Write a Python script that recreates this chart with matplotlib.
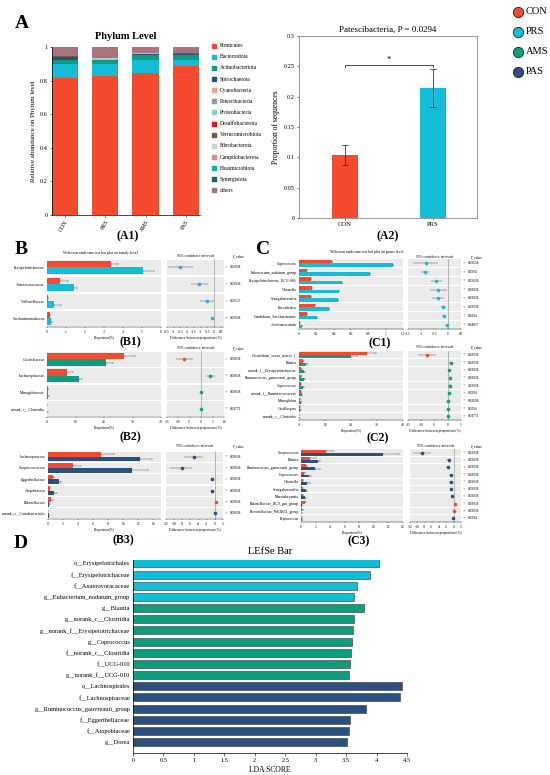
import matplotlib
matplotlib.use('Agg')
import matplotlib.pyplot as plt
import matplotlib.transforms as mtrans
import numpy as np

plt.rcParams['font.family'] = ['Liberation Serif', 'DejaVu Serif']
plt.rcParams['axes.linewidth'] = 0.5

# ---------------- data ----------------
groups = ['CON', 'PRS', 'AMS', 'PAS']
CON_C, PRS_C, AMS_C, PAS_C = '#F44B30', '#15BCD6', '#0E9E7E', '#2D4F80'
group_colors = [CON_C, PRS_C, AMS_C, PAS_C]

phyla = ['Firmicutes', 'Bacteroidota', 'Actinobacteriota', 'Spirochaetota', 'Cyanobacteria',
         'Patescibacteria', 'Proteobacteria', 'Desulfobacterota', 'Verrucomicrobiota',
         'Fibrobacterota', 'Campilobacterota', 'Elusimicrobiota', 'Synergistota', 'others']
phylum_colors = ['#F44B30', '#15BCD6', '#0E9E7E', '#2D4F80', '#F7A185', '#8598C1', '#8DD4C6',
                 '#E5161D', '#7A5A40', '#CFCFCF', '#E2898D', '#17B2A6', '#0C6B6B', '#A8737F']
firmicutes = [0.818, 0.826, 0.843, 0.888]
bacteroidota = [0.080, 0.070, 0.080, 0.032]
actinobacteriota = [0.025, 0.025, 0.030, 0.033]
spirochaetota = [0.015, 0.004, 0.005, 0.003]
cyanobacteria = [0.001, 0.001, 0.001, 0.001]
patescibacteria = [0.001, 0.002, 0.001, 0.001]
proteobacteria = [0.002, 0.002, 0.002, 0.002]
desulfobacterota = [0.001, 0.001, 0.001, 0.001]
verrucomicrobiota = [0.0005, 0.0005, 0.0005, 0.0005]
fibrobacterota = [0.0005, 0.0005, 0.0005, 0.0005]
campilobacterota = [0.0005, 0.0005, 0.0005, 0.0005]
elusimicrobiota = [0.0005, 0.0005, 0.0005, 0.0005]
synergistota = [0.0005, 0.0005, 0.0005, 0.0005]
others = [0.0545, 0.0665, 0.0345, 0.0365]
phylum_values = [firmicutes, bacteroidota, actinobacteriota, spirochaetota, cyanobacteria,
                 patescibacteria, proteobacteria, desulfobacterota, verrucomicrobiota,
                 fibrobacterota, campilobacterota, elusimicrobiota, synergistota, others]

a2_groups = ['CON', 'PRS']
a2_means = [0.104, 0.215]
a2_lo = [0.087, 0.183]
a2_hi = [0.120, 0.245]

b1_cats = ['Erysipelotrichaceae', 'Anaerovoracaceae', 'Veillonellaceae', 'Saccharimonadaceae']
b1_con = [3.37, 0.70, 0.03, 0.14]
b1_con_err = [0.38, 0.42, 0.0, 0.02]
b1_grp = [5.03, 1.43, 0.35, 0.21]
b1_grp_err = [0.60, 0.14, 0.40, 0.05]
b1_diff = [-2.5, -1.08, -0.5, -0.15]
b1_lo = [-3.45, -1.73, -1.03, -0.20]
b1_hi = [-1.58, -0.45, 0.0, -0.10]
b1_p = ['0.02938', '0.02938', '0.02527', '0.02938']

b2_cats = ['Clostridiaceae', 'Lachnospiraceae', 'Monoglobaceae', 'norank_c__Clostridia']
b2_con = [27.0, 7.0, 0.4, 0.1]
b2_con_err = [3.8, 2.0, 0.1, 0.05]
b2_grp = [20.7, 11.2, 0.5, 0.15]
b2_grp_err = [2.6, 1.2, 0.1, 0.05]
b2_diff = [-7.4, 3.9, 0.1, 0.02]
b2_lo = [-11.0, 2.3, -0.1, -0.1]
b2_hi = [-3.8, 5.9, 0.3, 0.1]
b2_p = ['0.03038', '0.03038', '0.03038', '0.04772']

b3_cats = ['Lachnospiraceae', 'Streptococcaceae', 'Eggerthellaceae', 'Atopobiaceae',
           'Rikenellaceae', 'norank_o__Coriobacteriales']
b3_con = [7.0, 3.3, 0.67, 0.22, 0.44, 0.02]
b3_con_err = [1.8, 1.1, 0.15, 0.05, 0.2, 0.01]
b3_grp = [12.2, 11.2, 1.42, 0.80, 0.18, 0.10]
b3_grp_err = [1.6, 2.1, 0.35, 0.45, 0.05, 0.03]
b3_diff = [-5.2, -8.0, -0.75, -0.6, 0.4, -0.05]
b3_lo = [-7.5, -10.9, -1.0, -0.9, 0.2, -0.1]
b3_hi = [-2.8, -5.5, -0.5, -0.3, 0.6, 0.0]
b3_p = ['0.03038', '0.03038', '0.03038', '0.03038', '0.03038', '0.03038']

c1_cats = ['Coprococcus', 'Eubacterium_nodatum_group', 'Erysipelotrichaceae_UCG-006', 'Olsenella',
           'Senegalimassilia', 'Faecalitalea', 'Candidatus_Saccharimonas', 'Acetitomaculum']
c1_con = [0.376, 0.096, 0.134, 0.146, 0.134, 0.19, 0.096, 0.01]
c1_con_err = [0, 0, 0, 0, 0, 0, 0, 0]
c1_grp = [1.09, 0.82, 0.50, 0.46, 0.45, 0.345, 0.21, 0.04]
c1_grp_err = [0, 0, 0, 0, 0, 0, 0, 0]
c1_diff = [-0.82, -0.84, -0.43, -0.36, -0.38, -0.17, -0.13, -0.03]
c1_lo = [-1.31, -1.0, -0.62, -0.68, -0.60, -0.27, -0.21, -0.05]
c1_hi = [-0.36, -0.69, -0.20, -0.04, -0.15, -0.08, -0.05, -0.01]
c1_p = ['0.03038', '0.0294', '0.03038', '0.03038', '0.03038', '0.03038', '0.0294', '0.04857']

c2_cats = ['Clostridium_sensu_stricto_1', 'Blautia', 'norank_f__Erysipelotrichaceae',
           'Ruminococcus_gauvreauii_group', 'Coprococcus', 'norank_f__Ruminococcaceae',
           'Monoglobus', 'Oscillospira', 'norank_c__Clostridia']
c2_con = [26.3, 1.4, 0.9, 0.9, 0.6, 0.6, 0.4, 0.25, 0.1]
c2_con_err = [3.5, 0.5, 0.2, 0.2, 0.2, 0.1, 0.1, 0.05, 0.03]
c2_grp = [19.9, 2.8, 1.9, 1.8, 1.7, 1.1, 0.6, 0.5, 0.15]
c2_grp_err = [2.4, 0.6, 0.4, 0.4, 0.3, 0.2, 0.1, 0.1, 0.05]
c2_diff = [-7.8, 1.3, 0.65, 0.8, 0.9, 0.4, 0.15, 0.1, 0.02]
c2_lo = [-11.4, 0.6, 0.3, 0.4, 0.5, 0.2, 0.05, 0.0, -0.05]
c2_hi = [-4.3, 2.0, 1.0, 1.2, 1.3, 0.6, 0.25, 0.2, 0.05]
c2_p = ['0.03038', '0.03038', '0.03038', '0.03038', '0.03038', '0.0294', '0.03038', '0.0294', '0.04772']

c3_cats = ['Streptococcus', 'Blautia', 'Ruminococcus_gauvreauii_group', 'Coprococcus', 'Olsenella',
           'Senegalimassilia', 'Marvinbryantia', 'Rikenellaceae_RC9_gut_group',
           'Prevotellaceae_NK3B31_group', 'Peptococcus']
c3_con = [3.45, 1.2, 0.64, 0.45, 0.23, 0.18, 0.23, 0.5, 0.2, 0.05]
c3_con_err = [1.0, 0.9, 0.2, 0.15, 0.1, 0.05, 0.05, 0.25, 0.05, 0.02]
c3_grp = [11.3, 2.4, 1.86, 1.05, 0.82, 0.64, 0.55, 0.14, 0.05, 0.09]
c3_grp_err = [2.2, 0.25, 0.7, 0.3, 0.4, 0.2, 0.15, 0.05, 0.02, 0.03]
c3_diff = [-8.6, -1.4, -1.5, -0.8, -0.8, -0.7, -0.5, 0.3, 0.15, -0.1]
c3_lo = [-11.1, -2.0, -2.1, -1.2, -1.2, -1.0, -0.8, 0.1, 0.05, -0.2]
c3_hi = [-6.2, -0.8, -0.9, -0.4, -0.4, -0.4, -0.2, 0.5, 0.25, 0.0]
c3_p = ['0.03038', '0.03038', '0.03038', '0.03038', '0.03038', '0.03038', '0.03038', '0.03038', '0.03038', '0.0294']

lefse_feats = ['o__Erysipelotrichales', 'f__Erysipelotrichaceae', 'f__Anaerovoracaceae',
               'g__Eubacterium_nodatum_group', 'g__Blautia', 'g__norank_c__Clostridia',
               'g__norank_f__Erysipelotrichaceae', 'g__Coprococcus', 'f__norank_c__Clostridia',
               'f__UCG-010', 'g__norank_f__UCG-010', 'o__Lachnospirales', 'f__Lachnospiraceae',
               'g__Ruminococcus_gauvreauii_group', 'f__Eggerthellaceae', 'f__Atopobiaceae', 'g__Dorea']
lefse_scores = [4.04, 3.90, 3.68, 3.63, 3.80, 3.63, 3.62, 3.59, 3.58, 3.56, 3.54,
                4.42, 4.39, 3.83, 3.57, 3.54, 3.52]
lefse_groups = ['PRS'] * 4 + ['AMS'] * 7 + ['PAS'] * 6

# ---------------- figure ----------------
W, H = 550, 775
fig = plt.figure(figsize=(W / 100, H / 100), dpi=100)
fig.patch.set_facecolor('white')
cmap = dict(zip(groups, group_colors))


def add_ax(x0, y0, x1, y1):
    return fig.add_axes([x0 / W, 1 - y1 / H, (x1 - x0) / W, (y1 - y0) / H])


def ftext(x, y, s, **kw):
    kw.setdefault('ha', 'center')
    kw.setdefault('va', 'center')
    fig.text(x / W, 1 - y / H, s, **kw)


# ---- panel letters ----
for lab, (x, y) in {'A': (22, 23), 'B': (21, 250), 'C': (263, 249), 'D': (21, 543)}.items():
    ftext(x, y, lab, fontsize=14, fontweight='bold')
for lab, (x, y) in {'(A1)': (128, 236), '(A2)': (388, 236), '(B1)': (130, 342), '(B2)': (130, 437),
                    '(B3)': (123, 540), '(C1)': (380, 343), '(C2)': (378, 438), '(C3)': (359, 541)}.items():
    ftext(x, y, lab, fontsize=8.5, fontweight='bold')

# ---- A1 stacked bar ----
ax = add_ax(52, 47, 200, 215)
xpos = np.arange(len(groups))
bottom = np.zeros(len(groups))
for name, vals, col in zip(phyla, phylum_values, phylum_colors):
    ax.bar(xpos, vals, bottom=bottom, width=0.65, color=col, label=name)
    bottom += np.array(vals)
ax.set_xlim(-0.32, 3.35)
ax.set_ylim(0, 1)
ax.set_yticks([0, 0.2, 0.4, 0.6, 0.8, 1])
ax.set_yticklabels(['0', '0.2', '0.4', '0.6', '0.8', '1'], fontsize=4.5)
ax.set_xticks(xpos)
ax.set_xticklabels(groups, rotation=60, fontsize=4.2, ha='right', rotation_mode='anchor')
ax.tick_params(length=1.5, width=0.4, pad=1.5)
for s in ['top', 'right']:
    ax.spines[s].set_visible(False)
ax.set_ylabel('Relative abundance on Phylum level', fontsize=5, labelpad=3)
ax.set_title('Phylum Level', fontsize=7.5, fontweight='bold', pad=6)
lax = add_ax(210, 40, 272, 196)
lax.axis('off')
lax.set_xlim(0, 1)
lax.set_ylim(len(phyla) - 0.5, -0.5)
for i, (name, col) in enumerate(zip(phyla, phylum_colors)):
    lax.scatter([0.06], [i], marker='s', s=9, color=col)
    lax.text(0.16, i, name, fontsize=4, va='center', ha='left')

# ---- A2 ----
ax = add_ax(299, 36, 477, 218)
x2 = np.arange(len(a2_groups))
ax.bar(x2, a2_means, width=0.3, color=[CON_C, PRS_C])
yerr = [np.array(a2_means) - np.array(a2_lo), np.array(a2_hi) - np.array(a2_means)]
ax.errorbar(x2, a2_means, yerr=yerr, fmt='none', ecolor='#333333', elinewidth=0.6, capsize=2, capthick=0.6)
ax.set_xlim(-0.52, 1.5)
ax.set_ylim(0, 0.3)
ax.set_yticks([0, 0.05, 0.1, 0.15, 0.2, 0.25, 0.3])
ax.set_yticklabels(['0', '0.05', '0.1', '0.15', '0.2', '0.25', '0.3'], fontsize=4.5)
ax.set_xticks(x2)
ax.set_xticklabels(a2_groups, fontsize=4.8)
ax.tick_params(length=1.5, width=0.4, pad=1.5)
for s in ax.spines.values():
    s.set_color('#888888')
    s.set_linewidth(0.6)
ax.set_ylabel('Proportion of sequences', fontsize=5.5, labelpad=3)
ax.set_title('Patescibacteria, P = 0.0294', fontsize=6.5, pad=3)
ax.plot([0, 0, 1, 1], [0.249, 0.253, 0.253, 0.249], color='#333333', lw=0.6)
ax.text(0.5, 0.254, '*', ha='center', va='bottom', fontsize=6)

# ---- group legend (top right) ----
gax = add_ax(505, 2, 550, 82)
gax.axis('off')
gax.set_xlim(0, 1)
gax.set_ylim(3.5, -0.5)
for i, g in enumerate(groups):
    gax.scatter([0.28], [i], s=55, color=cmap[g], edgecolor='#222222', linewidth=0.6)
    gax.text(0.46, i, g, fontsize=7.5, va='center', ha='left')


# ---- Wilcoxon panels ----
def wilcox(bar_box, ci_box, cats, con, con_err, grp, grp_err, grp_color, diff, lo, hi, pvals,
           bar_xlim, bar_xticks, ci_xlim, ci_xticks, p_x, header_y, xlabels=True):
    n = len(cats)
    y = np.arange(n)
    con = np.array(con); grp = np.array(grp)
    bx = add_ax(*bar_box)
    for i in y:
        bx.axhspan(i - 0.45, i + 0.45, color='#EBEBEB', lw=0, zorder=0)
    bx.barh(y - 0.2, con, height=0.4, color=CON_C, zorder=2)
    bx.barh(y + 0.2, grp, height=0.4, color=grp_color, zorder=2)
    bx.errorbar(con, y - 0.2, xerr=[np.zeros(n), con_err], fmt='none', ecolor='#666666',
                elinewidth=0.35, capsize=0.8, capthick=0.35, zorder=3)
    bx.errorbar(grp, y + 0.2, xerr=[np.zeros(n), grp_err], fmt='none', ecolor='#666666',
                elinewidth=0.35, capsize=0.8, capthick=0.35, zorder=3)
    bx.set_ylim(n - 0.5, -0.5)
    bx.set_xlim(*bar_xlim)
    bx.set_yticks(y)
    bx.set_yticklabels(cats, fontsize=2.8)
    bx.set_xticks(bar_xticks)
    bx.set_xticklabels([f'{t:g}' for t in bar_xticks], fontsize=2.6)
    bx.tick_params(axis='y', length=0, pad=1.5)
    bx.tick_params(axis='x', length=1, width=0.3, pad=1)
    for s in ['top', 'right', 'left']:
        bx.spines[s].set_visible(False)
    bx.spines['bottom'].set_linewidth(0.3)
    if xlabels:
        bx.set_xlabel('Proportion(%)', fontsize=2.6, labelpad=1.5)

    cx = add_ax(*ci_box)
    for i in y:
        cx.axhspan(i - 0.45, i + 0.45, color='#EBEBEB', lw=0, zorder=0)
    cx.axvline(0, color='#888888', lw=0.4, zorder=1)
    d = np.array(diff)
    for i in y:
        col = CON_C if con[i] > grp[i] else grp_color
        cx.errorbar([d[i]], [i], xerr=[[d[i] - lo[i]], [hi[i] - d[i]]], fmt='o', color=col,
                    ecolor='#555555', elinewidth=0.35, capsize=0.8, capthick=0.35,
                    markersize=2.6, markeredgewidth=0, zorder=3)
    cx.set_ylim(n - 0.5, -0.5)
    cx.set_xlim(*ci_xlim)
    cx.set_yticks([])
    cx.set_xticks(ci_xticks)
    cx.set_xticklabels([f'{t:g}' for t in ci_xticks], fontsize=2.6)
    cx.tick_params(axis='x', length=1, width=0.3, pad=1)
    for s in ['top', 'right', 'left']:
        cx.spines[s].set_visible(False)
    cx.spines['bottom'].set_linewidth(0.3)
    if xlabels:
        cx.set_xlabel('Difference between proportions(%)', fontsize=2.6, labelpad=1.5)
    cmid = (ci_box[0] + ci_box[2]) / 2
    ftext(cmid, header_y, '95% confidence intervals', fontsize=2.6)
    ftext(p_x + 3, header_y, 'P_value', fontsize=2.6, ha='left')
    tr = mtrans.blended_transform_factory(fig.transFigure, cx.transData)
    for i in y:
        cx.text((p_x - 4) / W, i, '*', color=CON_C, fontsize=3.5, ha='center', va='center', transform=tr)
        cx.text(p_x / W, i, pvals[i], fontsize=2.5, ha='left', va='center', transform=tr)


ftext(100, 253, 'Wilcoxon rank-sum test bar plot on family level', fontsize=2.8)
wilcox((47, 259, 161, 327), (167, 259, 224, 327), b1_cats, b1_con, b1_con_err, b1_grp, b1_grp_err,
       PRS_C, b1_diff, b1_lo, b1_hi, b1_p, (0, 6), [0, 1, 2, 3, 4, 5, 6], (-3.5, 0.75),
       [-3.5, -3, -2.5, -2, -1.5, -1, -0.5, 0, 0.5], 230, 256)
wilcox((47, 351, 161, 417), (167, 351, 224, 417), b2_cats, b2_con, b2_con_err, b2_grp, b2_grp_err,
       AMS_C, b2_diff, b2_lo, b2_hi, b2_p, (0, 40), [0, 10, 20, 30, 40], (-15, 10),
       [-15, -10, -5, 0, 5, 10], 230, 348)
wilcox((48, 451, 161, 519), (166, 451, 223, 519), b3_cats, b3_con, b3_con_err, b3_grp, b3_grp_err,
       PAS_C, b3_diff, b3_lo, b3_hi, b3_p, (0, 15), [0, 2, 4, 6, 8, 10, 12, 14], (-12, 2),
       [-12, -10, -8, -6, -4, -2, 0, 2], 230, 446)

ftext(367, 252, 'Wilcoxon rank-sum test bar plot on genus level', fontsize=2.8)
wilcox((299, 259, 403, 329), (408, 259, 461, 329), c1_cats, c1_con, c1_con_err, c1_grp, c1_grp_err,
       PRS_C, c1_diff, c1_lo, c1_hi, c1_p, (0, 1.2), [0, 0.2, 0.4, 0.6, 0.8, 1, 1.2], (-1.5, 0.5),
       [-1.5, -1, -0.5, 0, 0.5], 468, 257, xlabels=False)
wilcox((299, 351, 403, 420), (408, 351, 461, 420), c2_cats, c2_con, c2_con_err, c2_grp, c2_grp_err,
       AMS_C, c2_diff, c2_lo, c2_hi, c2_p, (0, 40), [0, 10, 20, 30, 40], (-15, 5),
       [-15, -10, -5, 0, 5], 468, 347)
wilcox((301, 449, 403, 522), (410, 449, 461, 522), c3_cats, c3_con, c3_con_err, c3_grp, c3_grp_err,
       PAS_C, c3_diff, c3_lo, c3_hi, c3_p, (0, 14), [0, 2, 4, 6, 8, 10, 12, 14], (-12, 2),
       [-12, -10, -8, -6, -4, -2, 0, 2], 468, 446)

# ---- D LEfSe ----
ax = add_ax(133, 560, 407, 753)
yl = np.arange(len(lefse_feats))
ax.barh(yl, lefse_scores, height=0.72, color=[cmap[g] for g in lefse_groups],
        edgecolor='#333333', linewidth=0.4)
ax.set_ylim(16.98, -0.31)
ax.set_xlim(0, 4.5)
ax.set_yticks(yl)
ax.set_yticklabels(lefse_feats, fontsize=4.6)
xt = [0, 0.5, 1, 1.5, 2, 2.5, 3, 3.5, 4, 4.5]
ax.set_xticks(xt)
ax.set_xticklabels([f'{t:g}' for t in xt], fontsize=4.6)
ax.tick_params(axis='y', length=0, pad=2)
ax.tick_params(axis='x', length=2, width=0.4, pad=1.5)
for s in ['top', 'right']:
    ax.spines[s].set_visible(False)
ax.set_xlabel('LDA SCORE', fontsize=5.5, labelpad=2)
ax.set_title('LEfSe Bar', fontsize=7.5, pad=4)

fig.savefig('out.png', dpi=100, facecolor='white')
